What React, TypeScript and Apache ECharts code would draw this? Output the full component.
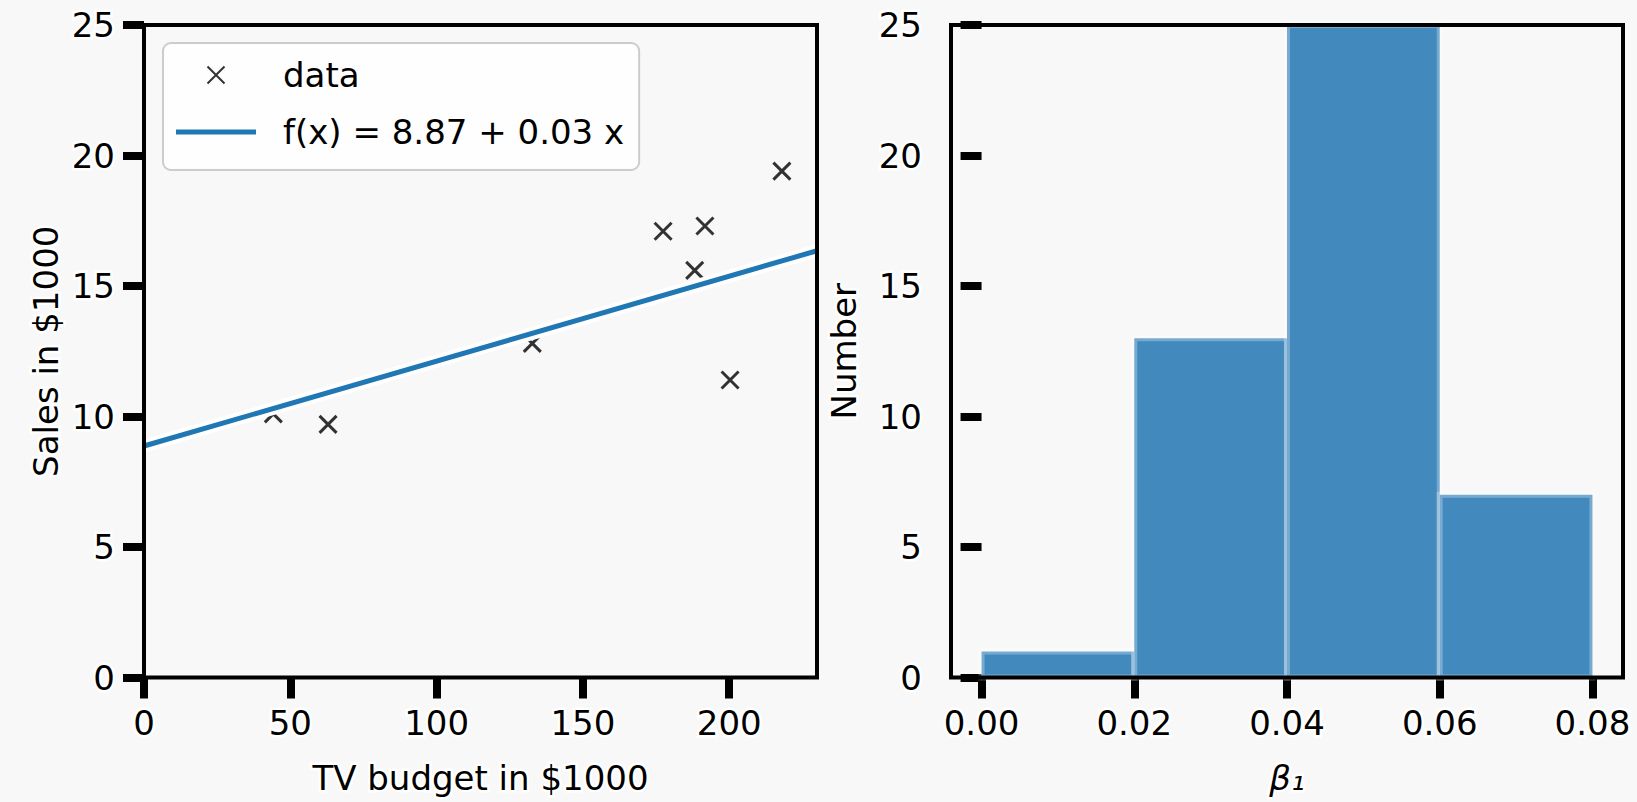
import React, { useEffect, useRef } from "react";
import * as echarts from "echarts";

// ---- data ----
const tvBudget = [44.2, 62.9, 132.7, 177.4, 191.7, 188.2, 200.3, 218.0];
const sales = [10.1, 9.7, 12.8, 17.1, 17.3, 15.6, 11.4, 19.4];
const fitX = [0, 230];
const fitY = [8.87, 16.35];
const binEdges = [0, 0.02, 0.04, 0.06, 0.08];
const binCounts = [1, 13, 25, 7];
const leftXTicks = [0, 50, 100, 150, 200];
const rightXTicks = [0, 0.02, 0.04, 0.06, 0.08];

const FONT = "DejaVu Sans";
const FS = 34;
const MARKER = "path://M0,0L10,10M10,0L0,10";
const LINE_ICON = "path://M0,0H16V1H0Z";

const txt = {
  color: "#000",
  fontFamily: FONT,
  fontSize: FS,
  textBorderColor: "#ffffff",
  textBorderWidth: 5,
};

function xAxisBase(gridIndex: number, ticks: number[]) {
  return {
    gridIndex,
    type: "value" as const,
    axisLine: { show: false },
    axisTick: { show: true, length: 21, lineStyle: { width: 8, color: "#000" }, customValues: ticks },
    axisLabel: { ...txt, margin: 28, customValues: ticks },
    splitLine: { show: false },
    nameLocation: "middle" as const,
    nameGap: 83,
    nameTextStyle: { ...txt },
  };
}

function yAxisBase(gridIndex: number, name: string, gap: number) {
  return {
    gridIndex,
    type: "value" as const,
    min: 0,
    max: 25,
    interval: 5,
    axisLine: { show: false },
    axisTick: { show: true, length: 21, lineStyle: { width: 8, color: "#000" } },
    axisLabel: { ...txt, margin: 29 },
    splitLine: { show: false },
    name,
    nameLocation: "middle" as const,
    nameGap: gap,
    nameTextStyle: { ...txt },
  };
}

export default function App() {
  const ref = useRef<HTMLDivElement>(null);
  useEffect(() => {
    document.body.style.margin = "0";
    const chart = echarts.init(ref.current!, undefined, { renderer: "svg" });
    const fitName = "f(x) = 8.87 + 0.03 x";
    chart.setOption({
      animation: false,
      backgroundColor: "#f8f8f8",
      grid: [
        { left: 144, top: 25, width: 673, height: 654, show: true, borderColor: "#000", borderWidth: 4, backgroundColor: "transparent", z: 5 },
        { left: 951, top: 25, width: 672, height: 653, show: true, borderColor: "#000", borderWidth: 4, backgroundColor: "transparent", z: 5 },
      ],
      legend: {
        left: 163,
        top: 43,
        orient: "vertical",
        data: [
          { name: "data", icon: MARKER },
          { name: fitName, icon: LINE_ICON, itemStyle: { color: "#1f77b4", borderWidth: 0 } },
        ],
        itemWidth: 80,
        itemHeight: 17,
        itemGap: 23,
        padding: [15, 15, 21, 13],
        backgroundColor: "rgba(255,255,255,0.8)",
        borderColor: "#cccccc",
        borderWidth: 2,
        borderRadius: 8,
        textStyle: { color: "#000", fontFamily: FONT, fontSize: FS, padding: [0, 0, 0, 22] },
      },
      xAxis: [
        { ...xAxisBase(0, leftXTicks), min: 0, max: 230, name: "TV budget in $1000" },
        {
          ...xAxisBase(1, rightXTicks),
          min: -0.004,
          max: 0.084,
          name: "β₁",
          nameTextStyle: { ...txt, fontStyle: "italic" },
          axisLabel: { ...txt, margin: 28, customValues: rightXTicks, formatter: (v: number) => v.toFixed(2) },
        },
      ],
      yAxis: [yAxisBase(0, "Sales in $1000", 81), yAxisBase(1, "Number", 90)],
      series: [
        {
          type: "scatter",
          name: "data",
          xAxisIndex: 0,
          yAxisIndex: 0,
          symbol: MARKER,
          symbolSize: 17,
          itemStyle: { color: "rgba(0,0,0,0)", borderColor: "#000", borderWidth: 3 },
          data: tvBudget.map((x, i) => [x, sales[i]]),
          z: 2,
        },
        {
          type: "line",
          name: "halo",
          xAxisIndex: 0,
          yAxisIndex: 0,
          symbol: "none",
          silent: true,
          lineStyle: { color: "#ffffff", width: 13 },
          data: fitX.map((x, i) => [x, fitY[i]]),
          z: 3,
        },
        {
          type: "line",
          name: fitName,
          xAxisIndex: 0,
          yAxisIndex: 0,
          symbol: "none",
          showSymbol: false,
          color: "#1f77b4",
          lineStyle: { color: "#1f77b4", width: 5 },
          data: fitX.map((x, i) => [x, fitY[i]]),
          z: 4,
        },
        {
          type: "custom",
          name: "hist",
          xAxisIndex: 1,
          yAxisIndex: 1,
          encode: { x: [0, 1], y: 2 },
          data: binCounts.map((c, i) => [binEdges[i], binEdges[i + 1], c]),
          renderItem: (params: any, api: any) => {
            const p0 = api.coord([api.value(0), api.value(2)]);
            const p1 = api.coord([api.value(1), 0]);
            return {
              type: "rect",
              shape: { x: p0[0], y: p0[1], width: p1[0] - p0[0], height: p1[1] - p0[1] },
              style: { fill: "#428abe", stroke: "rgba(255,255,255,0.28)", lineWidth: 6 },
            };
          },
          z: 2,
        },
      ],
    });
    return () => chart.dispose();
  }, []);
  return <div ref={ref} style={{ width: 1637, height: 802 }} />;
}
